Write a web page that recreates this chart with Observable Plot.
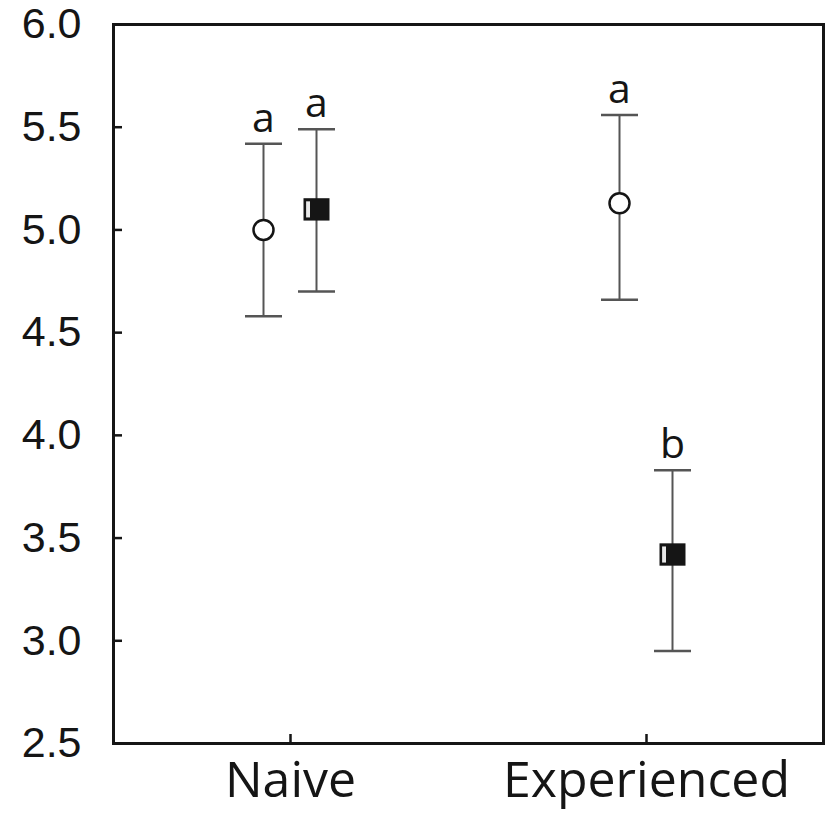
<!DOCTYPE html>
<html>
<head>
<meta charset="utf-8">
<script src="https://cdn.jsdelivr.net/npm/d3@7"></script>
<script src="https://cdn.jsdelivr.net/npm/@observablehq/plot@0.6"></script>
<style>
  html, body { margin: 0; padding: 0; background: #fff; }
</style>
</head>
<body>
<div id="chart"></div>
<script>
// ---- data ----
const groups = ["Naive", "Experienced"];
const yTicks = [2.5, 3.0, 3.5, 4.0, 4.5, 5.0, 5.5, 6.0];

// open circles
const openMean = [5.00, 5.13];
const openLo   = [4.58, 4.66];
const openHi   = [5.42, 5.56];
const openLetters = ["a", "a"];

// filled squares
const filledMean = [5.10, 3.42];
const filledLo   = [4.70, 2.95];
const filledHi   = [5.49, 3.83];
const filledLetters = ["a", "b"];

const openData = groups.map((g, i) => ({group: g, mean: openMean[i], lo: openLo[i], hi: openHi[i], letter: openLetters[i]}));
const filledData = groups.map((g, i) => ({group: g, mean: filledMean[i], lo: filledLo[i], hi: filledHi[i], letter: filledLetters[i]}));

const barColor = "#555";
const ink = "#151515";

// horizontal-line symbol used for the error-bar caps
const capSymbol = {
  draw(context, size) {
    const r = Math.sqrt(size / Math.PI);
    context.moveTo(-r, 0);
    context.lineTo(r, 0);
  }
};
// slightly wide square marker
const squareSymbol = {
  draw(context, size) {
    const r = Math.sqrt(size / Math.PI);
    context.rect(-r, -r * 0.86, 2 * r, 2 * r * 0.86);
  }
};
// thin light stripe at the left of the filled squares (as in the reference)
const stripeSymbol = {
  draw(context, size) {
    const r = Math.sqrt(size / Math.PI);
    context.rect(-r * 0.8, -r * 0.62, r * 0.3, r * 1.24);
  }
};

function seriesMarks(data, dx, dotMarks) {
  return [
    Plot.ruleX(data, {x: "group", y1: "lo", y2: "hi", dx, stroke: barColor, strokeWidth: 2}),
    Plot.dot(data, {x: "group", y: "hi", dx, symbol: capSymbol, r: 18.5, fill: "none", stroke: barColor, strokeWidth: 2.5}),
    Plot.dot(data, {x: "group", y: "lo", dx, symbol: capSymbol, r: 18.5, fill: "none", stroke: barColor, strokeWidth: 2.5}),
    ...dotMarks.map(o => Plot.dot(data, {x: "group", y: "mean", dx, ...o})),
    Plot.text(data, {x: "group", y: "hi", text: "letter", dx, dy: -12, lineAnchor: "bottom",
      fontSize: 41, fontFamily: "Open Sans, sans-serif", fill: ink})
  ];
}

const chart = Plot.plot({
  width: 826,
  height: 821,
  marginLeft: 113,
  marginRight: 3,
  marginTop: 24,
  marginBottom: 78,
  style: {background: "#fff", color: ink},
  x: {type: "point", domain: groups, padding: 0.495, label: null},
  y: {domain: [2.5, 6.0], label: null},
  marks: [
    Plot.frame({stroke: ink, strokeWidth: 3}),
    Plot.axisY({ticks: yTicks, tickFormat: d => d.toFixed(1), tickSize: -9, tickPadding: 41,
      fontSize: 43, fontFamily: "Liberation Sans, Arial, sans-serif", stroke: ink, strokeWidth: 2.5, fill: ink, label: null}),
    Plot.axisX({tickSize: -9, tickPadding: 27, fontSize: 50, fontFamily: "Open Sans, sans-serif",
      stroke: ink, strokeWidth: 2.5, fill: ink, label: null}),
    ...seriesMarks(openData, -27, [{r: 10, fill: "white", stroke: ink, strokeWidth: 2.5}]),
    ...seriesMarks(filledData, 26, [
      {r: 13, symbol: squareSymbol, fill: ink, stroke: "none"},
      {r: 13, symbol: stripeSymbol, fill: "#e8e8e8", stroke: "none"}
    ])
  ]
});

document.getElementById("chart").appendChild(chart);
</script>
</body>
</html>
